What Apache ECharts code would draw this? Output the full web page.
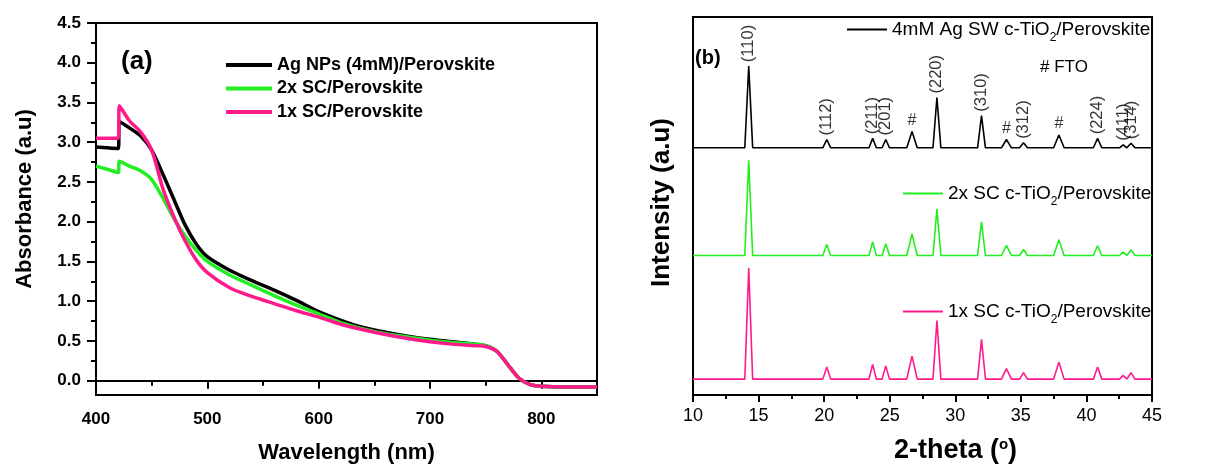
<!DOCTYPE html>
<html>
<head>
<meta charset="utf-8">
<script src="https://cdn.jsdelivr.net/npm/echarts@6/dist/echarts.min.js"></script>
<style>
  html, body { margin: 0; padding: 0; background: #fff; }
  #chart { width: 1224px; height: 469px; }
</style>
</head>
<body>
<div id="chart"></div>
<script>
// (a) UV-vis absorbance
const wavelength = [400, 410, 420, 421, 430, 440, 450, 460, 470, 480, 490, 500, 520, 540, 560, 580, 600, 620, 640, 660, 680, 700, 720, 740, 750, 760, 770, 780, 790, 800, 820, 850];
const absAgNps = [2.94, 2.93, 2.92, 3.26, 3.18, 3.08, 2.90, 2.60, 2.28, 1.96, 1.72, 1.56, 1.39, 1.26, 1.14, 1.01, 0.87, 0.76, 0.67, 0.61, 0.56, 0.52, 0.49, 0.46, 0.44, 0.37, 0.20, 0.03, -0.05, -0.07, -0.08, -0.08];
const abs2xSC = [2.70, 2.66, 2.62, 2.76, 2.70, 2.64, 2.53, 2.30, 2.04, 1.82, 1.64, 1.50, 1.33, 1.20, 1.07, 0.95, 0.84, 0.73, 0.65, 0.59, 0.55, 0.51, 0.48, 0.46, 0.44, 0.37, 0.20, 0.03, -0.05, -0.07, -0.08, -0.08];
const abs1xSC = [3.05, 3.05, 3.05, 3.46, 3.27, 3.13, 2.90, 2.42, 2.06, 1.76, 1.52, 1.36, 1.17, 1.06, 0.97, 0.88, 0.80, 0.71, 0.64, 0.58, 0.53, 0.49, 0.46, 0.44, 0.43, 0.37, 0.20, 0.03, -0.05, -0.07, -0.08, -0.08];
const absTicks = [0, 0.5, 1, 1.5, 2, 2.5, 3, 3.5, 4, 4.5];
const absMinorTicks = [0.25, 0.75, 1.25, 1.75, 2.25, 2.75, 3.25, 3.75, 4.25];
const wlTicks = [400, 500, 600, 700, 800];
const wlMinorTicks = [450, 550, 650, 750, 850];

// (b) XRD patterns, peak positions / heights
const peakPos = [14.25, 20.2, 23.7, 24.7, 26.7, 28.6, 32.0, 33.9, 35.2, 37.9, 40.85, 42.8, 43.4];
const peakHalfWidth = [0.3, 0.3, 0.28, 0.28, 0.4, 0.3, 0.3, 0.38, 0.3, 0.4, 0.32, 0.28, 0.3];
const peakLabels = ['(110)', '(112)', '(211)', '(201)', '#', '(220)', '(310)', '#', '(312)', '#', '(224)', '(411)', '(314)'];
const heightAgSW = [21.6, 2.2, 2.5, 2.2, 4.3, 13.3, 8.5, 2.2, 1.3, 3.4, 2.5, 0.8, 1.2];
const height2xSC = [25.2, 2.9, 3.6, 3.1, 5.7, 12.3, 8.9, 2.7, 1.6, 4.2, 2.6, 0.9, 1.5];
const height1xSC = [29.4, 3.2, 3.9, 3.5, 6.1, 15.5, 10.5, 2.8, 1.7, 4.5, 3.2, 1.0, 1.7];
const baseAgSW = 65.4;
const base2xSC = 36.9;
const base1xSC = 4.2;

const FONT = '"Liberation Sans", Arial, sans-serif';
const colors = { black: '#000000', green: '#22ee22', pink: '#ff1a8c' };

const names = {
    agNps: 'Ag NPs (4mM)/Perovskite',
    sc2: '2x SC/Perovskite',
    sc1: '1x SC/Perovskite',
    agSW: '4mM Ag SW c-TiO2/Perovskite',
    xrd2: '2x SC c-TiO2/Perovskite',
    xrd1: '1x SC c-TiO2/Perovskite',
};

const buildPattern = (base, heights) => {
    const pts = [[10, base]];
    peakPos.forEach((p, i) => {
        pts.push([p - peakHalfWidth[i], base], [p, base + heights[i]], [p + peakHalfWidth[i], base]);
    });
    pts.push([45, base]);
    return pts;
};

const absLine = (name, values, color) => ({
    name,
    type: 'line',
    xAxisIndex: 0,
    yAxisIndex: 0,
    data: wavelength.map((w, i) => [w, values[i]]),
    symbol: 'none',
    smooth: 0.3,
    lineStyle: { color, width: 3.5, join: 'round' },
    itemStyle: { color },
});

const xrdLine = (name, base, heights, color) => ({
    name,
    type: 'line',
    xAxisIndex: 2,
    yAxisIndex: 2,
    data: buildPattern(base, heights),
    symbol: 'none',
    lineStyle: { color, width: 1.6 },
    itemStyle: { color },
});

const subRich = {
    sub: { fontSize: 12, fontFamily: FONT, color: '#000', padding: [16, 0, 0, 0] },
};
const xrdLegend = (name, left, top) => ({
    data: [name],
    left,
    top,
    padding: 0,
    icon: 'rect',
    itemWidth: 40,
    itemHeight: 2,
    formatter: (n) => n.replace('TiO2', 'TiO{sub|2}'),
    textStyle: { fontFamily: FONT, fontSize: 19, color: '#000', rich: subRich },
});

const boldAxisText = { fontFamily: FONT, fontWeight: 'bold', color: '#000' };

const chart = echarts.init(document.getElementById('chart'));
chart.setOption({
    animation: false,
    backgroundColor: '#fff',
    textStyle: { fontFamily: FONT },
    grid: [
        { left: 96, top: 23, width: 501, height: 374, show: true, borderColor: '#000', borderWidth: 2 },
        { left: 693, top: 17, width: 459, height: 381, show: true, borderColor: '#000', borderWidth: 2 },
    ],
    legend: [
        {
            data: [names.agNps, names.sc2, names.sc1],
            orient: 'vertical',
            left: 226,
            top: 55,
            padding: 0,
            itemGap: 3.5,
            icon: 'rect',
            itemWidth: 46,
            itemHeight: 4,
            textStyle: { fontFamily: FONT, fontWeight: 'bold', fontSize: 18, color: '#000', lineHeight: 20 },
        },
        xrdLegend(names.agSW, 847, 20),
        xrdLegend(names.xrd2, 903, 184),
        xrdLegend(names.xrd1, 903, 302),
    ],
    xAxis: [
        {
            gridIndex: 0,
            type: 'value',
            min: 400,
            max: 850,
            name: 'Wavelength (nm)',
            nameLocation: 'middle',
            nameGap: 47,
            nameTextStyle: { ...boldAxisText, fontSize: 22 },
            axisLine: { lineStyle: { color: '#000', width: 2 } },
            axisTick: { customValues: wlTicks, length: 8, lineStyle: { color: '#000', width: 2 } },
            axisLabel: { customValues: wlTicks, ...boldAxisText, fontSize: 17, margin: 16 },
            splitLine: { show: false },
        },
        {
            gridIndex: 0,
            type: 'value',
            position: 'bottom',
            min: 400,
            max: 850,
            axisLine: { show: false },
            axisTick: { customValues: wlMinorTicks, length: 5, lineStyle: { color: '#000', width: 2 } },
            axisLabel: { show: false },
            splitLine: { show: false },
        },
        {
            gridIndex: 1,
            type: 'value',
            min: 10,
            max: 45,
            interval: 5,
            name: '2-theta ({sup|o})',
            nameLocation: 'middle',
            nameGap: 42,
            nameTextStyle: {
                ...boldAxisText,
                fontSize: 27,
                padding: [0, 0, 0, 66],
                rich: { sup: { fontFamily: FONT, fontSize: 15, color: '#000', padding: [0, 0, 12, 0] } },
            },
            axisLine: { lineStyle: { color: '#000', width: 2 } },
            axisTick: { length: 7, lineStyle: { color: '#000', width: 2 } },
            minorTick: { show: true, splitNumber: 2, length: 4, lineStyle: { color: '#000', width: 2 } },
            axisLabel: { fontFamily: FONT, fontSize: 18, color: '#000', margin: 12 },
            splitLine: { show: false },
        },
    ],
    yAxis: [
        {
            gridIndex: 0,
            type: 'value',
            min: -0.18,
            max: 4.5,
            name: 'Absorbance (a.u)',
            nameLocation: 'middle',
            nameGap: 60,
            nameTextStyle: { ...boldAxisText, fontSize: 22, padding: [0, 0, 0, 20] },
            axisLine: { lineStyle: { color: '#000', width: 2 } },
            axisTick: { customValues: absTicks, length: 9, lineStyle: { color: '#000', width: 2 } },
            axisLabel: {
                customValues: absTicks,
                ...boldAxisText,
                fontSize: 17,
                margin: 15,
                formatter: (v) => v.toFixed(1),
            },
            splitLine: { show: false },
        },
        {
            gridIndex: 0,
            type: 'value',
            position: 'left',
            min: -0.18,
            max: 4.5,
            axisLine: { show: false },
            axisTick: { customValues: absMinorTicks, length: 5, lineStyle: { color: '#000', width: 2 } },
            axisLabel: { show: false },
            splitLine: { show: false },
        },
        {
            gridIndex: 1,
            type: 'value',
            min: 0,
            max: 100,
            name: 'Intensity (a.u)',
            nameLocation: 'middle',
            nameGap: 18,
            nameTextStyle: { ...boldAxisText, fontSize: 26, padding: [0, 0, 0, 7] },
            axisLine: { lineStyle: { color: '#000', width: 2 } },
            axisTick: { show: false },
            axisLabel: { show: false },
            splitLine: { show: false },
        },
    ],
    series: [
        absLine(names.agNps, absAgNps, colors.black),
        absLine(names.sc2, abs2xSC, colors.green),
        absLine(names.sc1, abs1xSC, colors.pink),
        xrdLine(names.agSW, baseAgSW, heightAgSW, colors.black),
        xrdLine(names.xrd2, base2xSC, height2xSC, colors.green),
        xrdLine(names.xrd1, base1xSC, height1xSC, colors.pink),
        {
            // hkl / FTO labels above the top pattern
            type: 'scatter',
            xAxisIndex: 2,
            yAxisIndex: 2,
            symbolSize: 0,
            silent: true,
            data: peakPos.map((p, i) => {
                const isFto = peakLabels[i] === '#';
                return {
                    value: [p, baseAgSW + heightAgSW[i]],
                    label: {
                        show: true,
                        formatter: peakLabels[i],
                        position: 'top',
                        distance: isFto ? 3 : 4,
                        rotate: isFto ? 0 : 90,
                        align: isFto ? 'center' : 'left',
                        verticalAlign: isFto ? 'bottom' : 'middle',
                        fontFamily: FONT,
                        fontSize: isFto ? 16 : 16.5,
                        color: '#000',
                    },
                };
            }),
        },
    ],
    graphic: [
        { type: 'text', left: 121, top: 49, style: { text: '(a)', font: `bold 26px ${FONT}`, fill: '#000' } },
        { type: 'text', left: 695, top: 48, style: { text: '(b)', font: `bold 20px ${FONT}`, fill: '#000' } },
        { type: 'text', left: 1040, top: 59, style: { text: '# FTO', font: `17px ${FONT}`, fill: '#000' } },
    ],
});
</script>
</body>
</html>
